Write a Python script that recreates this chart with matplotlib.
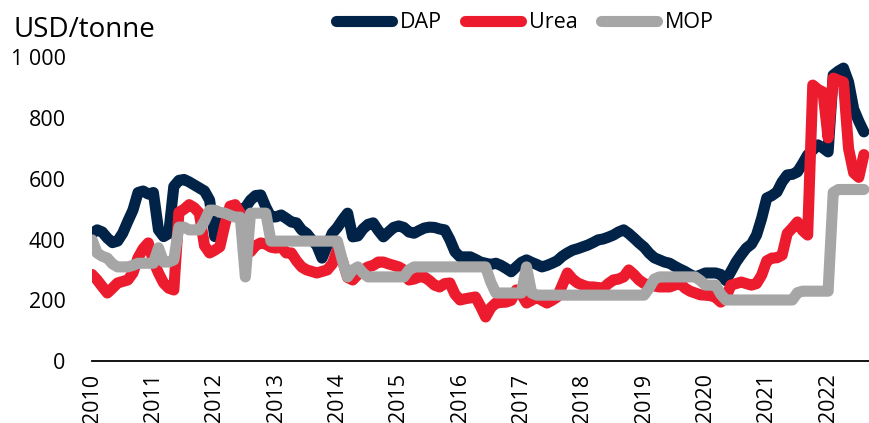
import matplotlib.pyplot as plt

# monthly prices, Jan 2010 - Aug 2022 (USD/tonne)
years = [str(y) for y in range(2010, 2023)]

dap = [
    420, 432, 425, 405, 390, 395, 421, 460, 497, 555, 560, 550,   # 2010
    555, 432, 410, 420, 575, 595, 598, 590, 580, 570, 560, 530,   # 2011
    410, 440, 480, 490, 495, 500, 505, 530, 545, 547, 507, 474,   # 2012
    475, 481, 470, 458, 455, 432, 420, 399, 380, 339, 380, 421,   # 2013
    440, 465, 487, 409, 412, 435, 450, 455, 430, 409, 425, 440,   # 2014
    445, 440, 425, 421, 430, 438, 441, 440, 435, 432, 400, 360,   # 2015
    343, 343, 343, 335, 326, 322, 318, 322, 315, 305, 294, 310,   # 2016
    325, 333, 325, 318, 310, 315, 322, 330, 345, 356, 365, 370,   # 2017
    376, 382, 390, 399, 402, 408, 415, 425, 432, 420, 405, 389,   # 2018
    375, 355, 340, 333, 326, 322, 312, 303, 295, 285, 277, 283,   # 2019
    290, 290, 290, 285, 265, 295, 326, 350, 372, 385, 415, 470,   # 2020
    537, 545, 557, 590, 613, 615, 623, 650, 679, 695, 712, 702,   # 2021
    689, 942, 955, 965, 919, 830, 790, 755,                       # 2022
]

urea = [
    285, 267, 245, 224, 240, 257, 262, 267, 290, 340, 370, 389,   # 2010
    330, 290, 257, 240, 234, 490, 500, 515, 505, 487, 380, 356,   # 2011
    365, 376, 450, 510, 515, 487, 420, 360, 380, 389, 385, 375,   # 2012
    372, 376, 356, 356, 330, 310, 300, 295, 290, 295, 300, 320,   # 2013
    366, 330, 275, 267, 285, 300, 310, 315, 326, 326, 320, 315,   # 2014
    310, 300, 267, 270, 277, 277, 265, 250, 244, 255, 257, 220,   # 2015
    201, 205, 208, 211, 180, 145, 175, 191, 193, 194, 200, 234,   # 2016
    220, 191, 200, 211, 200, 191, 200, 211, 250, 290, 270, 257,   # 2017
    250, 244, 244, 242, 240, 255, 267, 270, 277, 300, 285, 267,   # 2018
    255, 250, 247, 244, 244, 244, 250, 257, 240, 230, 224, 218,   # 2019
    217, 215, 210, 194, 210, 250, 255, 260, 255, 250, 255, 283,   # 2020
    330, 339, 340, 349, 420, 438, 458, 430, 415, 909, 895, 886,   # 2021
    735, 932, 925, 919, 700, 620, 605, 680,                       # 2022
]

mop = [
    399, 356, 345, 339, 320, 310, 310, 310, 315, 322, 322, 322,   # 2010
    322, 373, 326, 326, 333, 441, 441, 432, 432, 432, 460, 497,   # 2011
    497, 490, 487, 480, 474, 474, 277, 487, 487, 487, 487, 395,   # 2012
    395, 395, 395, 395, 395, 395, 395, 395, 395, 395, 395, 395,   # 2013
    395, 330, 277, 300, 310, 290, 277, 277, 277, 277, 277, 277,   # 2014
    277, 277, 300, 310, 310, 310, 310, 310, 310, 310, 310, 310,   # 2015
    310, 310, 310, 310, 310, 310, 260, 224, 224, 224, 224, 224,   # 2016
    224, 310, 224, 217, 217, 217, 217, 217, 217, 217, 217, 217,   # 2017
    217, 217, 217, 217, 217, 217, 217, 217, 217, 217, 217, 217,   # 2018
    217, 240, 270, 277, 277, 277, 277, 277, 277, 277, 277, 265,   # 2019
    250, 250, 250, 220, 201, 201, 201, 201, 201, 201, 201, 201,   # 2020
    201, 201, 201, 201, 201, 201, 225, 230, 230, 230, 230, 230,   # 2021
    230, 555, 565, 565, 565, 565, 565, 565,                       # 2022
]

plt.rcParams['font.family'] = ['Open Sans', 'DejaVu Sans']

fig = plt.figure(figsize=(8.69, 4.23), dpi=100)
ax = fig.add_axes([0.1059, 0.1466, 0.8941, 0.7175])

months = range(len(dap))
style = dict(linewidth=8, solid_capstyle='round', solid_joinstyle='round')
ax.plot(months, dap, color='#002347', label='DAP', **style)
ax.plot(months, urea, color='#EC1C2E', label='Urea', **style)
ax.plot(months, mop, color='#A6A6A6', label='MOP', **style)

ax.set_xlim(0, 152)
ax.set_ylim(0, 1000)
ax.set_yticks([0, 200, 400, 600, 800, 1000])
ax.set_yticklabels(['0', '200', '400', '600', '800', '1 000'], fontsize=15.5)
ax.set_xticks(range(0, 152, 12))
ax.set_xticklabels(years, rotation=90, fontsize=15.5)
ax.tick_params(axis='y', length=0, pad=19)
ax.tick_params(axis='x', length=0, pad=9)

for s in ['top', 'right', 'left']:
    ax.spines[s].set_visible(False)
ax.spines['bottom'].set_linewidth(1.3)
ax.spines['bottom'].set_color('black')

fig.text(0.015, 0.929, 'USD/tonne', fontsize=20, va='center', ha='left')

fig.legend(loc='center', bbox_to_anchor=(0.604, 0.946), ncol=3, frameon=False,
           fontsize=15.5, handlelength=2.6, handletextpad=0.37, columnspacing=1.07)

fig.savefig('out.png', dpi=100)
